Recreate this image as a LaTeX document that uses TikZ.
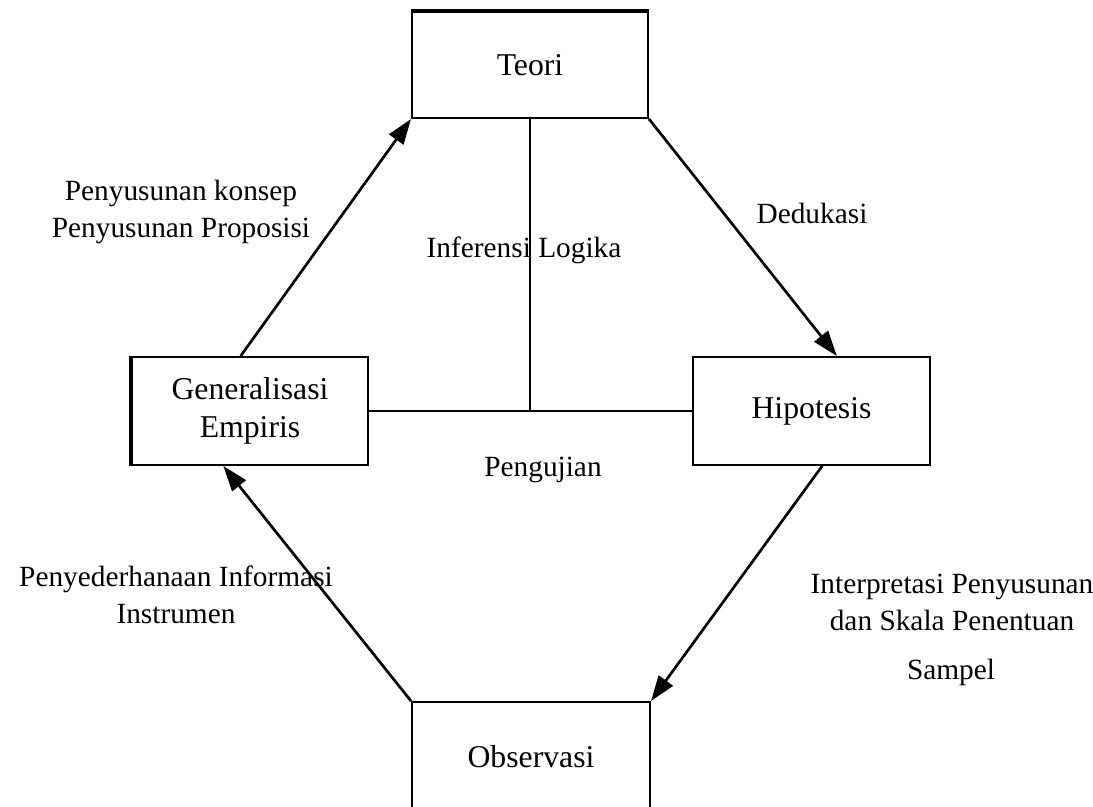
\documentclass[tikz,border=0pt]{standalone}
\usepackage{fontspec}
\setmainfont{Liberation Serif}
\usetikzlibrary{arrows.meta,calc}

\tikzset{
  box/.style={draw=black, line width=1.5pt, fill=white, inner sep=0pt,
              align=center, font=\fontsize{23.8}{28}\selectfont},
  label/.style={align=center, inner sep=0pt, font=\fontsize{22}{27.8}\selectfont},
  link/.style={line width=2.2pt, black},
  arr/.style={line width=2pt, black, -{Triangle[length=19pt,width=13pt]}},
  heavy/.style={line width=3pt, black}
}

\begin{document}
\begin{tikzpicture}[x=0.75pt,y=-0.75pt]
  \useasboundingbox (0,0) rectangle (1093,807);
  \clip (0,0) rectangle (1093,807);
  \fill[white] (0,0) rectangle (1093,807);

  % the four stages of the research cycle
  \node[box, minimum width=177pt, minimum height=79.5pt] (teori) at (530,65) {Teori};
  \node[box, minimum width=177pt, minimum height=81pt] (gen) at (250,411) {Generalisasi\\Empiris};
  \node[box, minimum width=177.75pt, minimum height=81pt] (hip) at (811.5,411) {Hipotesis};
  \node[box, minimum width=178.5pt, minimum height=82.5pt] (obs) at (531,757) {Observasi};

  % heavier printed edges
  \draw[heavy] (teori.north west) -- (teori.north east);
  \draw[heavy] (gen.north west) -- (gen.south west);

  % logical inference / testing cross
  \coordinate (j) at (teori.south |- gen.east);
  \draw[link] (teori.south) -- (j);
  \draw[link] (gen.east) -- (hip.west);

  % cycle arrows
  \draw[arr] ([xshift=-7pt]gen.north) -- (teori.south west);
  \draw[arr] (teori.south east) -- ([xshift=19pt]hip.north);
  \draw[arr] ([xshift=8pt]hip.south) -- (obs.north east);
  \draw[arr] (obs.north west) -- ([xshift=-20pt]gen.south);

  % labels
  \node[label] (lkonsep) at (181,212) {Penyusunan konsep\\Penyusunan Proposisi};
  \node[label] (lded) at (812,213) {Dedukasi};
  \node[label] (linf) at (524,250) {Inferensi Logika};
  \node[label] (luji) at (543,470) {Pengujian};
  \node[label] (lpeny) at (176,595) {Penyederhanaan Informasi\\Instrumen};
  \node[label] (linter) at (952,602) {Interpretasi Penyusunan\\dan Skala Penentuan};
  \node[label] (lsampel) at (951,672) {Sampel};
\end{tikzpicture}
\end{document}
